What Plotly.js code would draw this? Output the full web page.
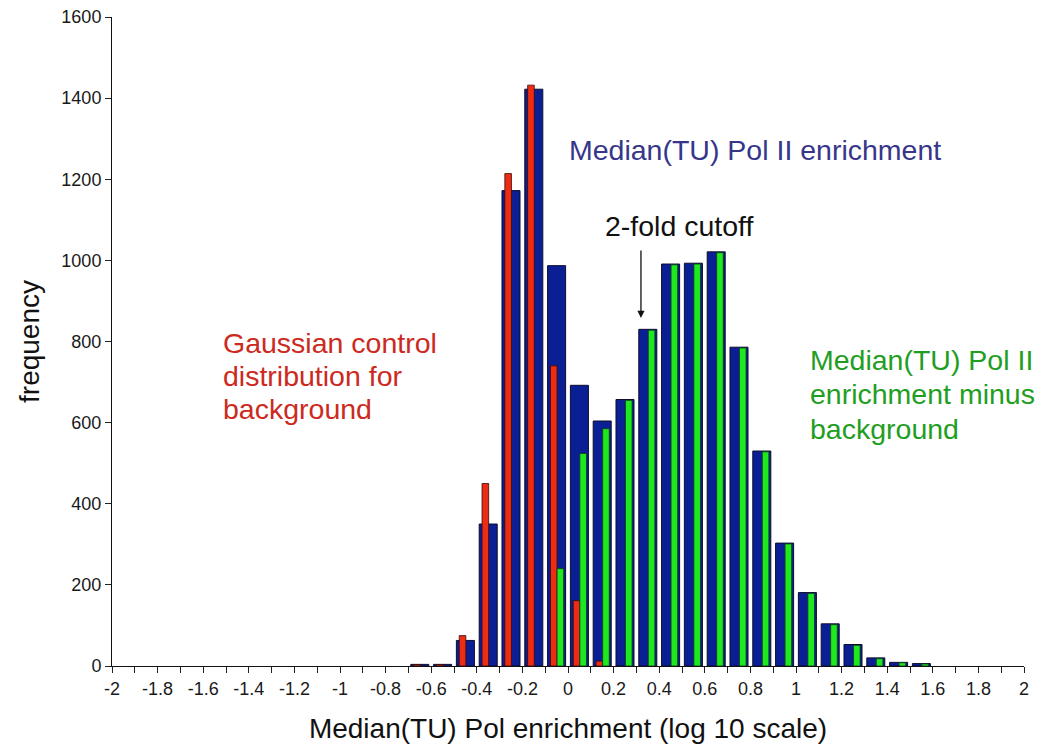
<!DOCTYPE html>
<html>
<head>
<meta charset="utf-8">
<script src="https://cdn.plot.ly/plotly-3.0.1.min.js"></script>
<style>html,body{margin:0;padding:0;background:#fff;}#chart{width:1047px;height:751px;}</style>
</head>
<body>
<div id="chart"></div>
<script>
// Bin centres (log10 enrichment, bins of width 0.1)
const enrichBins = [-0.65,-0.55,-0.45,-0.35,-0.25,-0.15,-0.05,0.05,0.15,0.25,0.35,0.45,0.55,0.65,0.75,0.85,0.95,1.05,1.15,1.25,1.35,1.45,1.55];
const enrichCounts = [4,4,63,350,1172,1422,987,692,604,657,830,991,993,1021,786,530,303,181,104,53,20,9,6];

const backgroundBins = [-0.65,-0.55,-0.45,-0.35,-0.25,-0.15,-0.05,0.05,0.15];
const backgroundCounts = [3,3,75,450,1214,1432,740,161,12];

const minusBgBins = [-0.05,0.05,0.15,0.25,0.35,0.45,0.55,0.65,0.75,0.85,0.95,1.05,1.15,1.25,1.35,1.45,1.55];
const minusBgCounts = [240,524,585,655,828,989,991,1019,784,528,301,179,102,51,18,8,5];

const xTickVals = [-2,-1.8,-1.6,-1.4,-1.2,-1,-0.8,-0.6,-0.4,-0.2,0,0.2,0.4,0.6,0.8,1,1.2,1.4,1.6,1.8,2];
const xTickText = ['-2','-1.8','-1.6','-1.4','-1.2','-1','-0.8','-0.6','-0.4','-0.2','0','0.2','0.4','0.6','0.8','1','1.2','1.4','1.6','1.8','2'];

const FONT = 'Liberation Sans, Arial, sans-serif';

const traces = [
  {type:'bar', name:'Median(TU) Pol II enrichment', x:enrichBins, y:enrichCounts,
   width:0.079, offset:-0.0395,
   marker:{color:'#0a1f94', line:{color:'#0d0d2e', width:1}}},
  {type:'bar', name:'Gaussian control distribution for background', x:backgroundBins, y:backgroundCounts,
   width:0.029, offset:-0.027,
   marker:{color:'#ec2c14', line:{color:'#3a0a05', width:0.8}}},
  {type:'bar', name:'Median(TU) Pol II enrichment minus background', x:minusBgBins, y:minusBgCounts,
   width:0.029, offset:0.002,
   marker:{color:'#1ee81e', line:{color:'#0d3a18', width:0.8}}}
];

const annFont = (c)=>({family:FONT, size:28.5, color:c});
const navy = '#36368a', red = '#cc2a1e', green = '#1f9e1f';

const layout = {
  width:1047, height:751,
  margin:{l:112, r:23, t:17, b:85},
  paper_bgcolor:'#fff', plot_bgcolor:'#fff',
  barmode:'overlay', showlegend:false,
  font:{family:FONT, size:18, color:'#1a1a1a'},
  xaxis:{
    range:[-2,2], tickmode:'array', tickvals:xTickVals, ticktext:xTickText,
    ticks:'outside', ticklen:6, tickcolor:'#222', tickwidth:1,
    minor:{dtick:0.1, tick0:0, ticks:'outside', ticklen:6, tickcolor:'#222', tickwidth:1, showgrid:false},
    showline:true, linecolor:'#111', linewidth:1, showgrid:false, zeroline:false,
    tickfont:{family:FONT, size:18, color:'#1a1a1a'},
    title:{text:'Median(TU) Pol enrichment (log 10 scale)', font:{family:FONT, size:28, color:'#111'}, standoff:20}
  },
  yaxis:{
    range:[0,1600], dtick:200, tick0:0,
    ticks:'outside', ticklen:6, tickcolor:'#222', tickwidth:1,
    showline:true, linecolor:'#111', linewidth:1, showgrid:false, zeroline:false,
    tickfont:{family:FONT, size:18, color:'#1a1a1a'},
    title:{text:'frequency', font:{family:FONT, size:28, color:'#111'}, standoff:13}
  },
  annotations:[
    {xref:'x', yref:'y', x:-0.006, y:1272, xanchor:'left', yanchor:'middle', text:'Median(TU) Pol II enrichment', showarrow:false, font:annFont(navy)},
    {xref:'x', yref:'y', x:0.153, y:1085, xanchor:'left', yanchor:'middle', text:'2-fold cutoff', showarrow:false, font:annFont('#111')},
    {xref:'x', yref:'y', x:0.32, y:858, axref:'x', ayref:'y', ax:0.32, ay:1028, text:'', showarrow:true,
     arrowhead:2, arrowsize:1.1, arrowwidth:1.3, arrowcolor:'#111'},
    {xref:'x', yref:'y', x:-1.522, y:797, xanchor:'left', yanchor:'middle', text:'Gaussian control', showarrow:false, font:annFont(red)},
    {xref:'x', yref:'y', x:-1.522, y:716, xanchor:'left', yanchor:'middle', text:'distribution for', showarrow:false, font:annFont(red)},
    {xref:'x', yref:'y', x:-1.522, y:634, xanchor:'left', yanchor:'middle', text:'background', showarrow:false, font:annFont(red)},
    {xref:'x', yref:'y', x:1.052, y:755, xanchor:'left', yanchor:'middle', text:'Median(TU) Pol II', showarrow:false, font:annFont(green)},
    {xref:'x', yref:'y', x:1.052, y:670, xanchor:'left', yanchor:'middle', text:'enrichment minus', showarrow:false, font:annFont(green)},
    {xref:'x', yref:'y', x:1.052, y:584, xanchor:'left', yanchor:'middle', text:'background', showarrow:false, font:annFont(green)}
  ]
};

Plotly.newPlot('chart', traces, layout, {displayModeBar:false, staticPlot:true});
</script>
</body>
</html>
